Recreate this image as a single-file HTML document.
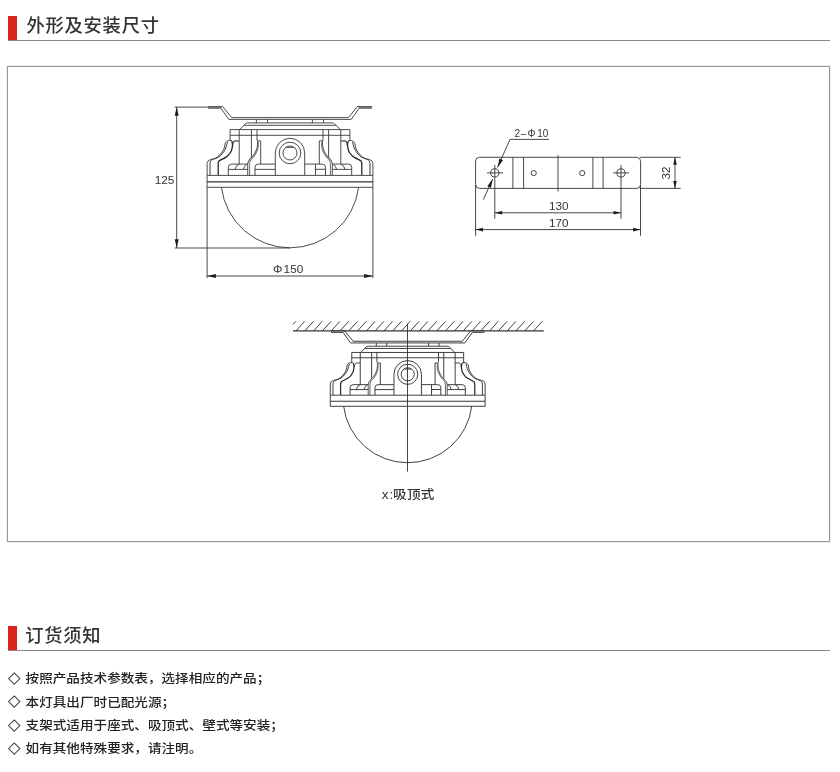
<!DOCTYPE html>
<html lang="zh-CN">
<head>
<meta charset="utf-8">
<title>外形及安装尺寸</title>
<style>
html,body{margin:0;padding:0;background:#fff;}
body{width:840px;height:772px;position:relative;overflow:hidden;font-family:"Liberation Sans","Noto Sans CJK SC",sans-serif;color:#2a2a2a;}
.hd{position:absolute;left:8px;width:822px;height:24px;border-bottom:1px solid #8a8a8a;}
.hd .bar{position:absolute;left:0;top:0;width:9px;height:24px;background:#d9231d;}
.hd h2{position:absolute;left:17.2px;top:-4px;margin:0;font-weight:500;letter-spacing:0.75px;font-size:18.3px;line-height:28px;color:#333;white-space:nowrap;}
#h1{top:16px;}
#h1 h2{left:18.5px;}
#h2{top:626px;}
.box{position:absolute;left:7px;top:66px;width:821px;height:474px;border:1px solid #969696;box-shadow:0 0 1px rgba(120,120,120,0.55);}
svg{position:absolute;left:0;top:0;}
.hd,ul,svg{will-change:transform;}
svg text{font-family:"Liberation Sans","Noto Sans CJK SC",sans-serif;fill:#333;}
ul{position:absolute;left:8px;top:667px;margin:0;padding:0;list-style:none;}
li{height:23.2px;line-height:23.2px;font-size:13.6px;font-weight:500;color:#222;white-space:nowrap;position:relative;padding-left:17.6px;}
li i{position:absolute;left:2.2px;top:7.3px;width:8.5px;height:8.5px;border:1px solid #444;transform:rotate(45deg);box-sizing:border-box;}
li span{display:inline-block;transform:scaleY(0.9);transform-origin:50% 50%;position:relative;top:0.4px;}
</style>
</head>
<body>
<div class="hd" id="h1"><span class="bar"></span><h2>外形及安装尺寸</h2></div>
<div class="box"></div>
<svg width="840" height="772" viewBox="0 0 840 772">
<defs>
<g id="half" fill="none" stroke="#333" stroke-linecap="butt" stroke-linejoin="round">
  <path d="M208.3,106.5 H222.6 L231.6,117.6 H290"/>
  <path d="M208.3,106.5 V108.2 H220.8 L228.8,119.4 H290"/>
  <path d="M208.3,107.35 H221.5" stroke-width="1.5" stroke="#777"/>
  <path d="M256.4,119.4 V122.9 M267.6,119.4 V122.9"/>
  <path d="M290,122.9 H247.6 Q246.3,123 245.4,123.9 L239.5,129.7"/>
  <path d="M290,125.3 H244.2"/>
  <path d="M230.1,141 V129.6 H290 M230.1,135.3 H290"/>
  <path d="M239.2,129.6 V163.8"/>
  <path d="M251.4,129.6 V157.8"/>
  <path d="M257,129.6 V139"/>
  <path d="M256.90,139.00 C257.02,139.57 257.55,141.07 257.60,142.40 C257.65,143.73 257.45,145.60 257.20,147.00 C256.95,148.40 256.53,149.67 256.10,150.80 C255.67,151.93 255.23,152.78 254.60,153.80 C253.97,154.82 253.13,155.95 252.30,156.90 C251.47,157.85 250.30,158.62 249.60,159.50 C248.90,160.38 248.42,161.37 248.10,162.20 C247.78,163.03 247.77,164.12 247.70,164.50 V175.3" stroke-width="1.05" stroke="#555"/>
  <path d="M258.30,142.00 C258.28,142.83 258.40,145.50 258.20,147.00 C258.00,148.50 257.53,149.80 257.10,151.00 C256.67,152.20 256.23,153.13 255.60,154.20 C254.97,155.27 254.10,156.43 253.30,157.40 C252.50,158.37 251.38,159.15 250.80,160.00 C250.22,160.85 250.00,161.75 249.80,162.50 C249.60,163.25 249.63,164.17 249.60,164.50 V175.3" stroke="#555"/>
  <path d="M257.4,140.9 H260.7 V164.1"/>
  <path d="M207.1,175.3 V163.4  C207.25,163.00 207.38,161.65 208.00,161.00 C208.62,160.35 209.83,159.87 210.80,159.50 C211.77,159.13 212.67,159.23 213.80,158.80 C214.93,158.37 216.33,157.87 217.60,156.90 C218.87,155.93 220.32,154.40 221.40,153.00 C222.48,151.60 223.50,150.02 224.10,148.50 C224.70,146.98 224.65,145.05 225.00,143.90 C225.35,142.75 225.63,142.15 226.20,141.60 C226.77,141.05 227.60,140.77 228.40,140.60 C229.20,140.43 230.32,140.43 231.00,140.60 C231.68,140.77 232.25,141.43 232.50,141.60"/>
  <path d="M210,175.3 V163.4  C210.12,163.00 210.32,161.62 210.70,161.00 C211.08,160.38 211.02,160.33 212.30,159.70 C213.58,159.07 216.75,158.18 218.40,157.20 C220.05,156.22 221.05,155.13 222.20,153.80 C223.35,152.47 224.53,150.72 225.30,149.20 C226.07,147.68 226.43,145.90 226.80,144.70 C227.17,143.50 227.38,142.45 227.50,142.00" stroke-width="1"/>
  <path d="M218.2,175.3 V163  C218.32,162.70 218.48,161.72 218.90,161.20 C219.32,160.68 219.63,160.50 220.70,159.90 C221.77,159.30 223.93,158.48 225.30,157.60 C226.67,156.72 227.92,155.67 228.90,154.60 C229.88,153.53 230.63,152.43 231.20,151.20 C231.77,149.97 232.10,148.47 232.30,147.20 C232.50,145.93 232.50,144.58 232.40,143.60 C232.30,142.62 231.82,141.68 231.70,141.30" stroke-width="1.25" stroke="#222"/>
  <path d="M232.70,145.50 C232.78,145.02 232.85,143.35 233.20,142.60 C233.55,141.85 234.17,141.28 234.80,141.00 C235.43,140.72 236.63,140.92 237.00,140.90 H239.2" stroke-width="1.05"/>
  <path d="M228.3,175.3 V167.4 Q228.3,164.1 231.6,164.1 H247.7 M228.3,169.4 H247.7"/>
  <path d="M235.1,169.4 Q235.8,165 239.3,164.1 M243.5,169.4 Q244,165.4 246.8,164.4"/>
  <path d="M275.3,175.3 V153 A14.7,14.7 0 0 1 290,138.3"/>
  <path d="M290,175.4 H207.1 V187.3 H290"/>
  <path d="M207.1,181.9 H290" stroke-width="1.3"/>
  <path d="M221.4,187.3 A69.1,69.1 0 0 0 290,247.8"/>
</g>
<g id="lamp">
  <use href="#half"/>
  <use href="#half" transform="translate(580,0) scale(-1,1)"/>
  <g fill="none" stroke="#333">
    <path d="M255,175.3 V167.4 Q255,164.1 258.3,164.1 H275.3 M255,169.4 H275.3"/>
    <path d="M304.7,164.1 H322.2 Q325.5,164.1 325.5,167.4 V175.3 M315.5,164.1 V175.3 M315.5,169.3 H325.5"/>
    <circle cx="290" cy="153" r="10.8"/>
    <circle cx="290" cy="153" r="7"/>
    <path d="M286.3,147.4 H293.7"/>
  </g>
</g>
<path id="ah" d="M0,0 L-8.8,-2 L-8.8,2 Z" fill="#1c1c1c" stroke="none"/>
</defs>

<!-- drawing 1 -->
<use href="#lamp" stroke-width="0.88"/>
<g fill="none" stroke="#333" stroke-width="0.9">
  <path d="M174.7,107.1 H208.3 M174.7,248 H290"/>
  <path d="M176.7,107.1 V248"/>
  <path d="M207.1,187.1 V278 M372.9,187.1 V278 M207.1,276 H372.9"/>
</g>
<use href="#ah" transform="translate(176.7,107) rotate(-90)"/>
<use href="#ah" transform="translate(176.7,248) rotate(90)"/>
<use href="#ah" transform="translate(207.1,276) rotate(180)"/>
<use href="#ah" transform="translate(372.9,276)"/>
<text x="174.4" y="183.8" font-size="11.8" text-anchor="end">125</text>
<text x="273" y="272.6" font-size="11.8">Φ<tspan dx="1.2">150</tspan></text>

<!-- drawing 2 : bracket plate -->
<g fill="none" stroke="#333" stroke-width="0.9">
  <rect x="475.6" y="157.3" width="165" height="31.1" rx="4" ry="4"/>
  <path d="M512.9,157.3 V188.4 M523.6,157.3 V188.4 M592.9,157.3 V188.4 M603.1,157.3 V188.4"/>
  <path d="M558,155 V191.5"/>
  <circle cx="494.8" cy="172.9" r="4.1"/>
  <circle cx="621" cy="172.9" r="4.1"/>
  <circle cx="533.7" cy="173.1" r="2.6"/>
  <circle cx="582.2" cy="173.1" r="2.6"/>
  <path d="M487,172.9 H503 M613.2,172.9 H629"/>
  <path d="M494.8,165 V218.7 M621,165 V218.7"/>
  <path d="M475.6,185 V235.8 M640.5,185 V235.8"/>
  <path d="M494.8,212.8 H621 M475.6,229.6 H640.5"/>
  <path d="M640,157.3 H680.7 M640,188.4 H680.7 M675,157.3 V188.4"/>
  <path d="M549,139.4 H510 L497.6,167.4"/>
  <path d="M483.3,199.6 L492.7,179"/>
</g>
<use href="#ah" transform="translate(494.8,212.8) rotate(180) scale(0.84,0.9)"/>
<use href="#ah" transform="translate(621,212.8) scale(0.84,0.9)"/>
<use href="#ah" transform="translate(475.6,229.6) rotate(180) scale(0.84,0.9)"/>
<use href="#ah" transform="translate(640.5,229.6) scale(0.84,0.9)"/>
<use href="#ah" transform="translate(675,157.3) rotate(-90) scale(0.84,0.9)"/>
<use href="#ah" transform="translate(675,188.4) rotate(90) scale(0.84,0.9)"/>
<use href="#ah" transform="translate(497.6,167.4) rotate(114)"/>
<use href="#ah" transform="translate(492.7,179) rotate(-66)"/>
<text x="514.4" y="136.8" font-size="10">2<tspan dx="0.8">–</tspan><tspan dx="1.2">Φ</tspan><tspan dx="1.8">10</tspan></text>
<text x="558.7" y="209.5" font-size="11.6" text-anchor="middle">130</text>
<text x="558.7" y="226.5" font-size="11.6" text-anchor="middle">170</text>
<text transform="translate(670.1,173) rotate(-90)" font-size="11.6" text-anchor="middle">32</text>

<!-- drawing 3 : ceiling mount -->
<g fill="none" stroke="#333" stroke-width="0.9">
  <path d="M293,330.9 H543.8" stroke-width="1.1"/>
  <path d="M407.5,323.7 V471.6"/>
</g>
<g id="hatches" fill="none" stroke="#333" stroke-width="0.95">
<path d="M293,324.4 L295.8,321.4 M296.0,330.9 L304.6,321.4 M304.8,330.9 L313.4,321.4 M313.6,330.9 L322.2,321.4 M322.4,330.9 L331.0,321.4 M331.2,330.9 L339.8,321.4 M340.0,330.9 L348.6,321.4 M348.8,330.9 L357.4,321.4 M357.6,330.9 L366.2,321.4 M366.4,330.9 L375.0,321.4 M375.2,330.9 L383.8,321.4 M384.0,330.9 L392.6,321.4 M392.8,330.9 L401.4,321.4 M401.6,330.9 L410.2,321.4 M410.4,330.9 L419.0,321.4 M419.2,330.9 L427.8,321.4 M428.0,330.9 L436.6,321.4 M436.8,330.9 L445.4,321.4 M445.6,330.9 L454.2,321.4 M454.4,330.9 L463.0,321.4 M463.2,330.9 L471.8,321.4 M472.0,330.9 L480.6,321.4 M480.8,330.9 L489.4,321.4 M489.6,330.9 L498.2,321.4 M498.4,330.9 L507.0,321.4 M507.2,330.9 L515.8,321.4 M516.0,330.9 L524.6,321.4 M524.8,330.9 L533.4,321.4 M533.6,330.9 L542.2,321.4"/>
</g>
<use href="#lamp" stroke-width="1" transform="translate(407.7,331) scale(0.934,0.933) translate(-290,-106.6)"/>
<text transform="translate(381.8,499.2) scale(1,0.9)" font-size="13.6" font-weight="500" letter-spacing="0.35"><tspan letter-spacing="0.9">x</tspan><tspan letter-spacing="-0.3">:</tspan>吸顶式</text>
</svg>
<div class="hd" id="h2"><span class="bar"></span><h2>订货须知</h2></div>
<ul>
<li><i></i><span>按照产品技术参数表，选择相应的产品；</span></li>
<li><i></i><span>本灯具出厂时已配光源；</span></li>
<li><i></i><span>支架式适用于座式、吸顶式、壁式等安装；</span></li>
<li><i></i><span>如有其他特殊要求，请注明。</span></li>
</ul>
</body>
</html>
